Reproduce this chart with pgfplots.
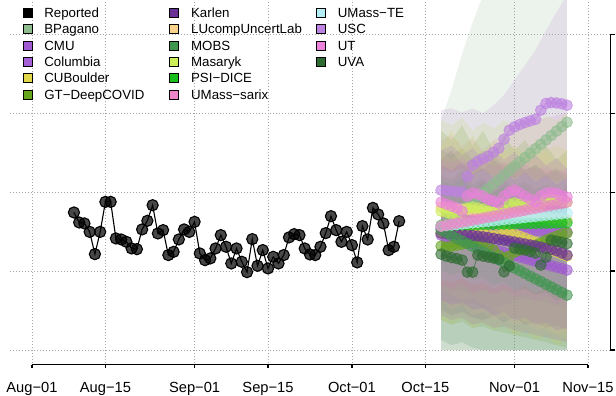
\documentclass[border=0pt]{standalone}
\usepackage{fontspec}
\setmainfont{Liberation Sans}
\usepackage{pgfplots}
\usepackage{pgfplotstable}
\pgfplotsset{compat=1.18}

\definecolor{cBP}{RGB}{143,188,143}
\definecolor{cCMU}{RGB}{160,90,210}
\definecolor{cCol}{RGB}{165,95,215}
\definecolor{cCUB}{RGB}{225,215,75}
\definecolor{cGT}{RGB}{102,166,30}
\definecolor{cKar}{RGB}{106,50,150}
\definecolor{cLU}{RGB}{250,210,140}
\definecolor{cMOBS}{RGB}{65,150,80}
\definecolor{cMas}{RGB}{205,240,90}
\definecolor{cPSI}{RGB}{25,190,30}
\definecolor{cSar}{RGB}{235,135,200}
\definecolor{cTE}{RGB}{180,238,244}
\definecolor{cUSC}{RGB}{190,130,225}
\definecolor{cUT}{RGB}{235,130,220}
\definecolor{cUVA}{RGB}{46,107,50}

\pgfplotstableread{
d v
8 17.43
9 16.16
10 16.04
11 14.97
12 12.15
13 14.97
14 18.77
15 18.77
16 14.14
17 14.01
18 13.71
19 12.87
20 12.78
21 15.28
22 16.37
23 18.35
24 14.77
25 15.19
26 12.03
27 12.44
28 14.01
29 15.28
30 14.97
31 16.24
32 12.24
33 11.39
34 11.61
35 12.87
36 14.56
37 13.08
38 10.97
39 12.87
40 11.18
41 9.87
42 14.05
43 10.67
44 12.66
45 10.34
46 11.81
47 10.97
48 12.03
49 14.27
50 14.68
51 14.56
52 12.87
53 12.11
54 12.03
55 13.08
56 14.81
57 16.96
58 15.19
59 13.71
60 14.97
61 13.29
62 11.10
63 15.70
64 14.01
65 18.01
66 17.18
67 16.04
68 12.66
69 13.08
70 16.33
}\rep

\pgfplotstableread{
d BP CMU Col CUB GT Kar LU MOBS Mas PSI Sar TE USC UT UVA
78 15.44 14.56 15.44 14.81 13.16 14.81 18.10 15.19 17.59 15.80 15.70 15.70 20.25 18.73 12.15
79 16.00 14.37 15.40 14.94 13.04 14.78 18.03 14.85 17.47 15.81 15.83 15.77 20.19 18.48 11.90
80 16.56 14.19 15.36 15.06 13.16 14.74 17.96 14.50 17.22 15.83 15.95 15.84 20.13 18.23 11.71
81 17.12 14.00 15.30 14.94 13.29 14.70 17.90 14.16 16.96 15.84 16.08 15.90 20.06 17.97 11.58
82 17.68 13.82 15.25 15.06 13.42 14.66 17.83 13.82 16.20 15.85 16.21 15.97 20.00 17.59 11.39
83 18.24 13.63 15.30 15.32 13.54 14.60 17.76 13.48 17.97 15.87 16.33 16.04 22.03 19.49 9.87
84 18.80 13.45 15.35 15.19 13.67 14.52 17.69 13.13 18.10 15.88 16.46 16.11 23.42 19.87 9.87
85 19.35 13.27 15.30 15.06 13.80 14.44 17.62 12.79 17.97 15.89 16.58 16.18 23.92 19.75 12.03
86 19.91 13.08 15.25 14.81 13.54 14.34 17.56 12.45 17.85 15.91 16.71 16.25 24.24 19.49 11.90
87 20.47 12.90 15.20 14.68 13.16 14.24 17.49 12.10 17.59 15.92 16.84 16.31 24.56 19.11 11.77
88 21.03 12.71 15.15 14.43 12.66 14.14 17.42 11.76 17.47 15.93 16.96 16.38 25.06 18.86 11.65
89 21.59 12.53 15.20 14.81 12.03 14.03 17.35 11.42 17.22 15.95 17.09 16.45 25.57 18.61 11.52
90 22.15 12.34 15.25 15.06 11.65 13.92 17.28 11.08 17.72 15.96 17.22 16.52 26.71 19.49 9.91
91 22.71 12.16 15.20 14.94 11.90 13.80 17.22 10.73 18.48 15.97 17.34 16.59 27.85 20.00 10.63
92 23.27 11.97 15.15 14.68 12.41 13.68 17.15 10.39 18.61 15.99 17.47 16.66 28.27 20.25 12.91
93 23.83 11.79 15.10 14.43 12.66 13.56 17.08 10.05 18.48 16.00 17.59 16.72 28.57 19.87 12.78
94 24.39 11.61 15.05 14.18 12.91 13.44 17.01 9.70 18.35 16.01 17.72 16.79 28.82 19.49 12.66
95 24.95 11.42 15.10 13.92 13.04 13.31 16.94 9.36 18.23 16.03 17.85 16.86 29.03 19.11 12.47
96 25.51 11.24 15.15 13.67 13.29 13.18 16.87 9.02 17.97 16.04 17.97 16.93 29.24 18.73 12.28
97 26.07 11.05 15.10 13.42 13.54 13.04 16.81 8.68 18.35 16.05 18.10 17.00 30.38 19.49 10.76
98 26.62 10.87 15.05 13.04 13.92 12.89 16.74 8.33 18.99 16.07 18.23 17.07 31.23 19.87 11.77
99 27.18 10.68 15.00 12.66 14.18 12.74 16.67 7.99 19.11 16.08 18.35 17.13 31.35 19.94 13.92
100 27.74 10.50 14.97 12.41 14.43 12.57 16.60 7.65 18.99 16.09 18.48 17.20 31.30 19.87 13.80
101 28.30 10.32 14.95 12.15 14.68 12.30 16.53 7.30 18.86 16.11 18.60 17.27 31.20 19.56 13.67
102 28.86 10.13 14.94 11.90 14.81 12.03 16.46 6.96 18.73 16.12 18.73 17.34 31.01 19.37 13.48
}\fc

\newcommand{\fcast}[2]{%
  \addplot[#2, line width=0.8pt, draw opacity=0.7, mark=*, mark size=5.4pt,
    mark options={draw=none, fill=#2, fill opacity=0.6}, forget plot] table[x=d,y=#1]{\fc};
}
\newcommand{\lab}[1]{\makebox[125.2pt][l]{#1}}
\pgfplotsset{band/.style={draw=none, fill=#1!85!gray, fill opacity=0.165, forget plot}}

\begin{document}
\begin{tikzpicture}
\path (0,0) rectangle (616pt,396pt);
\begin{axis}[
  at={(9.74pt,30pt)}, anchor=south west,
  scale only axis, width=601.02pt, height=366pt,
  xmin=-4.24, xmax=110.24, ymin=-2.025, ymax=44.30,
  xtick={0,14,31,45,61,75,92,106}, ytick={0,10,20,30,40},
  xticklabels={}, yticklabels={},
  tick label style={inner sep=0pt, outer sep=0pt},
  grid=major, grid style={dash pattern=on 0.9pt off 2.1pt, color=black!35, line width=0.7pt},
  axis line style={draw=none}, major tick length=0pt,
  legend columns=3, legend cell align=left,
  legend image code/.code={\fill[#1] (0pt,-2.8pt) rectangle (9pt,6.2pt);},
  legend style={draw=none, fill=none, inner sep=0pt, outer sep=0pt,
    at={(0.02157,0.979)}, anchor=north west,
    font=\fontsize{13.3}{16}\selectfont, row sep=3.3pt,
    nodes={inner sep=0pt, text height=9.6pt, text depth=3.4pt},
    /tikz/every odd column/.style={column sep=12.3pt},
    /tikz/every even column/.style={column sep=0pt}},
]
% prediction intervals (upper bound forward, lower bound backward)
\addplot[band=cBP] coordinates {(78,29.1)(80,33.0)(82,37.5)(84,41.5)(86,45.0)(88,48.5)(90,52.0)(92,55.5)(94,59.0)(96,62.5)(98,66.0)(100,69.5)(102,73.0)(102,0)(78,0)};
\addplot[band=cUSC] coordinates {(78,30.4)(80,30.6)(82,30.1)(84,30.6)(86,30.0)(88,31.0)(90,32.3)(92,34.2)(94,36.1)(96,38.0)(98,40.5)(100,42.8)(102,45.0)(102,5.3)(100,5.7)(98,6.1)(96,6.3)(94,6.6)(92,6.3)(90,5.7)(88,5.1)(86,5.3)(84,6.0)(82,5.7)(80,6.1)(78,6.3)};
\addplot[band=cUT] coordinates {(78,26.6)(80,27.2)(82,25.9)(84,26.8)(86,25.3)(88,26.6)(90,27.2)(92,27.8)(94,28.5)(96,29.1)(98,29.4)(100,29.7)(102,30.1)(102,7.3)(100,7.6)(98,7.3)(96,7.6)(94,7.8)(92,7.3)(90,7.6)(88,7.2)(86,7.6)(84,7.0)(82,7.8)(80,7.3)(78,7.6)};
\addplot[band=cMOBS] coordinates {(78,25.3)(80,24.7)(82,25.6)(84,24.1)(86,25.3)(88,24.7)(90,23.4)(92,24.1)(94,22.8)(96,23.4)(98,22.2)(100,22.8)(102,21.5)(102,0)(86,0)(84,0.3)(82,1.0)(80,0.6)(78,1.3)};
\addplot[band=cKar] coordinates {(78,24.1)(80,25.3)(82,23.4)(84,24.3)(86,22.8)(88,24.1)(90,23.0)(92,23.8)(94,22.8)(96,23.4)(98,22.5)(100,23.0)(102,22.2)(102,2.5)(100,3.2)(98,2.8)(96,3.5)(94,3.2)(92,4.1)(90,3.5)(88,4.3)(86,3.8)(84,4.1)(82,4.8)(80,4.4)(78,5.1)};
\addplot[band=cUVA] coordinates {(78,22.2)(80,21.5)(82,22.8)(84,20.9)(86,21.8)(88,20.3)(90,21.5)(92,20.5)(94,21.3)(96,20.3)(98,20.9)(100,20.0)(102,20.5)(102,0)(78,0)};
\addplot[band=cGT] coordinates {(78,27.8)(80,26.6)(82,28.5)(84,25.9)(86,27.8)(88,25.3)(90,27.2)(92,25.3)(94,26.6)(96,24.7)(98,25.9)(100,24.1)(102,25.3)(102,0.3)(100,0.6)(98,1.0)(96,1.3)(94,1.6)(92,1.9)(90,2.2)(88,2.5)(86,3.0)(84,2.8)(82,3.6)(80,3.2)(78,3.8)};
\addplot[band=cCUB] coordinates {(78,25.9)(80,27.8)(82,25.3)(84,27.2)(86,24.7)(88,26.6)(90,25.3)(92,25.9)(94,24.7)(96,26.6)(98,25.3)(100,25.9)(102,25.3)(102,1.3)(100,0.6)(98,1.9)(96,1.3)(94,2.5)(92,1.9)(90,3.2)(88,2.5)(86,3.5)(84,2.8)(82,4.1)(80,3.2)(78,3.8)};
\addplot[band=cMas] coordinates {(78,29.1)(80,28.5)(82,29.4)(84,27.8)(86,28.8)(88,28.1)(90,29.1)(92,28.5)(94,29.4)(96,28.8)(98,29.7)(100,29.1)(102,30.1)(102,1.3)(100,1.9)(98,2.5)(96,3.2)(94,3.5)(92,4.1)(90,4.4)(88,5.1)(86,5.7)(84,6.6)(82,6.3)(80,7.0)(78,7.6)};
\addplot[band=cLU] coordinates {(78,25.3)(80,24.1)(82,25.9)(84,23.4)(86,25.3)(88,24.1)(90,25.3)(92,23.4)(94,24.7)(96,24.1)(98,25.3)(100,23.4)(102,24.7)(102,2.3)(100,1.9)(98,2.8)(96,2.5)(94,3.5)(92,3.2)(90,4.1)(88,3.8)(86,4.8)(84,4.4)(82,5.7)(80,5.1)(78,6.3)};
\addplot[band=cPSI] coordinates {(78,21.5)(80,20.9)(82,21.8)(84,20.3)(86,21.3)(88,19.9)(90,20.9)(92,19.6)(94,20.5)(96,19.2)(98,20.3)(100,19.0)(102,19.6)(102,6.6)(100,6.3)(98,7.3)(96,7.0)(94,7.8)(92,7.6)(90,8.6)(88,8.2)(86,9.1)(84,8.9)(82,9.9)(80,9.5)(78,10.1)};
\addplot[band=cSar] coordinates {(78,24.1)(80,23.8)(82,24.3)(84,23.4)(86,24.1)(88,23.3)(90,23.8)(92,23.0)(94,23.5)(96,22.8)(98,23.3)(100,22.5)(102,23.0)(102,6.3)(100,5.8)(98,6.8)(96,6.3)(94,7.1)(92,6.6)(90,7.6)(88,7.0)(86,7.8)(84,7.3)(82,8.4)(80,7.8)(78,8.2)};
\addplot[band=cTE] coordinates {(78,22.8)(80,22.5)(82,23.0)(84,22.2)(86,22.8)(88,22.0)(90,22.5)(92,21.8)(94,22.3)(96,21.5)(98,22.0)(100,21.3)(102,21.8)(102,7.6)(100,7.0)(98,7.8)(96,7.3)(94,8.1)(92,7.6)(90,8.4)(88,7.8)(86,8.6)(84,8.2)(82,9.1)(80,8.6)(78,8.9)};
\addplot[band=cCMU] coordinates {(78,25.3)(80,25.9)(82,24.7)(84,25.6)(86,24.3)(88,25.3)(90,24.1)(92,25.1)(94,23.8)(96,24.7)(98,23.4)(100,24.3)(102,23.0)(102,1.0)(100,1.3)(98,1.6)(96,1.9)(94,2.2)(92,2.5)(90,3.0)(88,2.8)(86,3.5)(84,3.2)(82,4.1)(80,3.8)(78,4.4)};
\addplot[band=cCol] coordinates {(78,23.4)(80,22.8)(82,23.8)(84,22.2)(86,23.0)(88,21.8)(90,22.8)(92,21.5)(94,22.5)(96,21.3)(98,22.2)(100,20.9)(102,21.8)(102,2.8)(100,2.5)(98,3.5)(96,3.2)(94,4.1)(92,3.8)(90,4.8)(88,4.4)(86,5.3)(84,5.1)(82,6.1)(80,5.7)(78,6.3)};

\fcast{BP}{cBP}
\fcast{CMU}{cCMU}
\fcast{Col}{cCol}
\fcast{CUB}{cCUB}
\fcast{GT}{cGT}
\fcast{Kar}{cKar}
\fcast{LU}{cLU}
\fcast{MOBS}{cMOBS}
\fcast{Mas}{cMas}
\fcast{PSI}{cPSI}
\fcast{TE}{cTE}
\fcast{Sar}{cSar}
\fcast{USC}{cUSC}
\fcast{UT}{cUT}
\fcast{UVA}{cUVA}

\addplot[black, line width=1.1pt, mark=*, mark size=5.6pt,
  mark options={draw=none, fill=black, fill opacity=0.72}, forget plot] table[x=d,y=v]{\rep};

\addlegendimage{fill=black}\addlegendentry{\lab{Reported}}
\addlegendimage{fill=cKar}\addlegendentry{\lab{Karlen}}
\addlegendimage{fill=cTE}\addlegendentry{\lab{UMass−TE}}
\addlegendimage{fill=cBP}\addlegendentry{\lab{BPagano}}
\addlegendimage{fill=cLU}\addlegendentry{\lab{LUcompUncertLab}}
\addlegendimage{fill=cUSC}\addlegendentry{\lab{USC}}
\addlegendimage{fill=cCMU}\addlegendentry{\lab{CMU}}
\addlegendimage{fill=cMOBS}\addlegendentry{\lab{MOBS}}
\addlegendimage{fill=cUT}\addlegendentry{\lab{UT}}
\addlegendimage{fill=cCol}\addlegendentry{\lab{Columbia}}
\addlegendimage{fill=cMas}\addlegendentry{\lab{Masaryk}}
\addlegendimage{fill=cUVA}\addlegendentry{\lab{UVA}}
\addlegendimage{fill=cCUB}\addlegendentry{\lab{CUBoulder}}
\addlegendimage{fill=cPSI}\addlegendentry{\lab{PSI−DICE}}
\addlegendimage{empty legend}\addlegendentry{}
\addlegendimage{fill=cGT}\addlegendentry{\lab{GT−DeepCOVID}}
\addlegendimage{fill=cSar}\addlegendentry{\lab{UMass−sarix}}
\end{axis}

\begin{axis}[
  at={(32pt,31.5pt)}, anchor=south west,
  scale only axis, width=556.5pt, height=10pt,
  xmin=0, xmax=106, ymin=0, ymax=1,
  axis y line=none, axis x line*=bottom,
  x axis line style={-, line width=1.3pt},
  xtick={0,14,31,45,61,75,92,106},
  xticklabels={Aug−01,Aug−15,Sep−01,Sep−15,Oct−01,Oct−15,Nov−01,Nov−15},
  tick align=outside, major tick length=3.5pt,
  xtick style={line width=1.3pt, black},
  xticklabel style={font=\fontsize{14.7}{17}\selectfont, inner sep=0pt, anchor=north, yshift=-13.7pt},
]
\addplot[draw=none, forget plot] coordinates {(0,0.5) (106,0.5)};
\end{axis}

\begin{axis}[
  at={(600.7pt,46pt)}, anchor=south west,
  scale only axis, width=10pt, height=316pt,
  xmin=0, xmax=1, ymin=0, ymax=40,
  axis x line=none, axis y line*=right,
  y axis line style={-, line width=1.3pt},
  ytick={0,10,20,30,40}, yticklabels={},
  yticklabel style={inner sep=0pt, outer sep=0pt},
  yticklabel shift=-12pt,
  tick align=outside, major tick length=5.2pt,
  ytick style={line width=1.3pt, black},
]
\addplot[draw=none, forget plot] coordinates {(0.5,0) (0.5,40)};
\end{axis}
\end{tikzpicture}
\end{document}
